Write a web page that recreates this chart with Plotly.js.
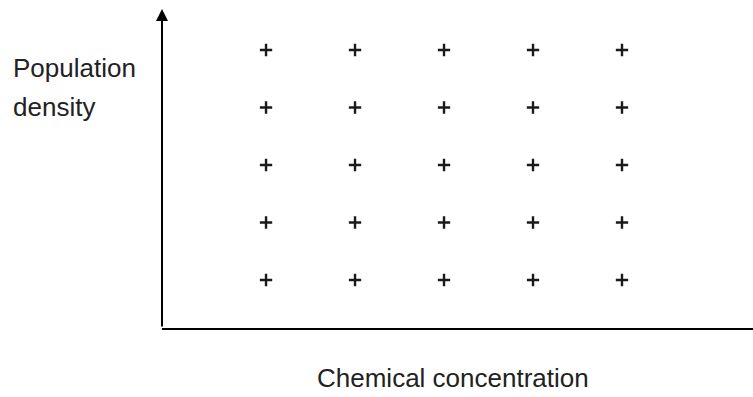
<!DOCTYPE html>
<html>
<head>
<meta charset="utf-8">
<script src="https://cdn.plot.ly/plotly-3.0.1.min.js"></script>
<style>html,body{margin:0;padding:0;background:#fff;}#chart{width:753px;height:397px;}</style>
</head>
<body>
<div id="chart"></div>
<script>
// Sampling grid levels (arbitrary units)
const concentrationLevels = [1, 2, 3, 4, 5];
const densityLevels = [1, 2, 3, 4, 5];
const xTitle = "Chemical concentration";
const yTitleLines = ["Population", "density"];

const gx = [], gy = [];
densityLevels.forEach(d => concentrationLevels.forEach(c => { gx.push(c); gy.push(d); }));

const trace = {
  type: 'scatter', mode: 'markers', x: gx, y: gy,
  marker: {symbol: 'cross-thin', size: 8.8, color: '#1a1a1a', line: {width: 2.4, color: '#1a1a1a'}},
  hoverinfo: 'skip'
};

const font = {family: 'Liberation Sans, Arial, sans-serif', size: 26, color: '#222'};

const layout = {
  width: 753, height: 397,
  margin: {l: 162, r: 0, t: 16, b: 69, pad: 0},
  paper_bgcolor: '#fff', plot_bgcolor: '#fff',
  showlegend: false, hovermode: false,
  xaxis: {range: [-0.169, 6.472], showgrid: false, zeroline: false, showticklabels: false, ticks: '',
          showline: true, linecolor: '#000', linewidth: 2, fixedrange: true},
  yaxis: {range: [0.165, 5.591], showgrid: false, zeroline: false, showticklabels: false, ticks: '',
          showline: false, fixedrange: true},
  annotations: [
    {xref: 'paper', yref: 'paper', x: 0, y: 1.0224, text: '', showarrow: true,
     ax: 0, ay: 319, axref: 'pixel', ayref: 'pixel', arrowhead: 2, arrowsize: 1.2, arrowwidth: 2,
     arrowcolor: '#000', standoff: 0, startstandoff: 0},
    {xref: 'paper', yref: 'paper', x: 0.4924, y: -0.160, text: xTitle, showarrow: false,
     xanchor: 'center', yanchor: 'middle', font: font},
    {xref: 'paper', yref: 'paper', x: -0.2555, y: 0.8333, text: yTitleLines[0], showarrow: false,
     xanchor: 'left', yanchor: 'middle', font: font},
    {xref: 'paper', yref: 'paper', x: -0.2555, y: 0.7083, text: yTitleLines[1], showarrow: false,
     xanchor: 'left', yanchor: 'middle', font: font}
  ]
};

Plotly.newPlot('chart', [trace], layout, {displayModeBar: false, staticPlot: true});
</script>
</body>
</html>
